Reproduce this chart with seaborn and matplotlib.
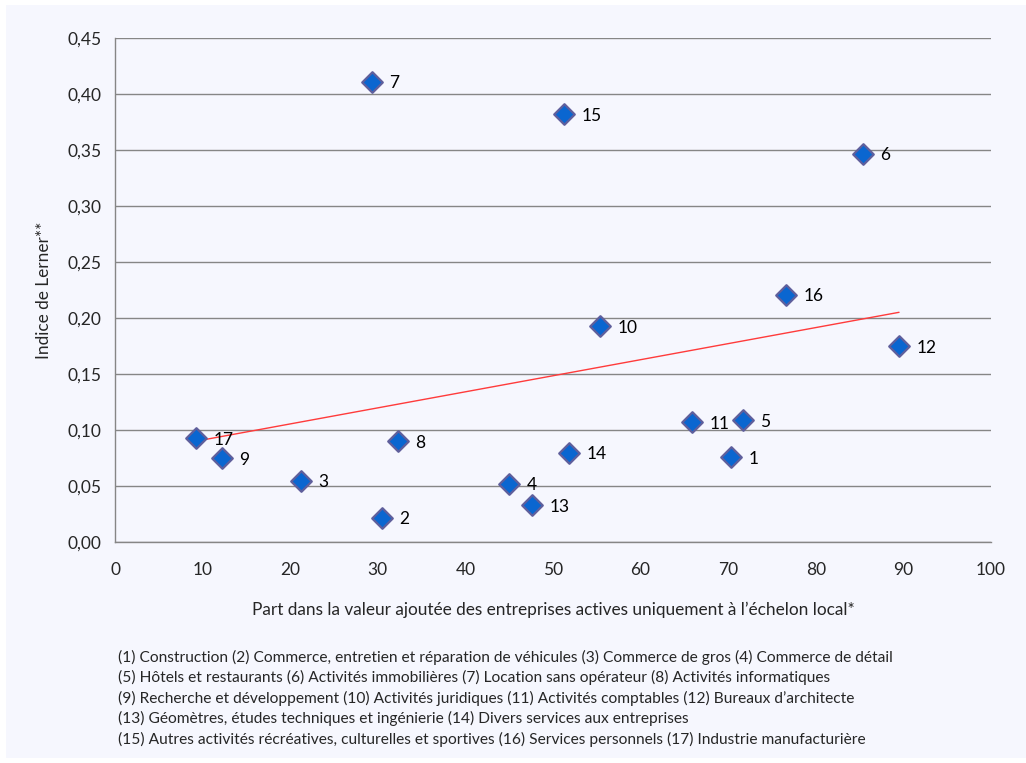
import matplotlib.pyplot as plt
import pandas as pd
import seaborn as sns
from matplotlib.patches import Rectangle

# valeurs
secteurs = [str(i) for i in range(1, 18)]
part_locale = [70.3, 30.5, 21.2, 45.0, 71.7, 85.4, 29.3, 32.3, 12.2, 55.4, 65.9, 89.5, 47.6, 51.8, 51.3, 76.6, 9.3]
indice_lerner = [0.076, 0.022, 0.055, 0.052, 0.109, 0.347, 0.411, 0.090, 0.075, 0.193, 0.107, 0.175, 0.033, 0.080, 0.382, 0.221, 0.093]
y_ticks = [0.00, 0.05, 0.10, 0.15, 0.20, 0.25, 0.30, 0.35, 0.40, 0.45]
x_ticks = list(range(0, 101, 10))
notes = [
    "(1) Construction (2) Commerce, entretien et réparation de véhicules (3) Commerce de gros (4) Commerce de détail",
    "(5) Hôtels et restaurants (6) Activités immobilières (7) Location sans opérateur (8) Activités informatiques",
    "(9) Recherche et développement (10) Activités juridiques (11) Activités comptables (12) Bureaux d\u2019architecte",
    "(13) Géomètres, études techniques et ingénierie (14) Divers services aux entreprises",
    "(15) Autres activités récréatives, culturelles et sportives (16) Services personnels (17) Industrie manufacturière",
]

df = pd.DataFrame({"secteur": secteurs, "x": part_locale, "y": indice_lerner})

sns.set_style("white")
plt.rcParams["font.family"] = ["Lato", "DejaVu Sans"]

bg = "#F6F7FE"
grid_col = "#868686"

fig = plt.figure(figsize=(10.26, 7.63), dpi=100, facecolor="white")
fig.patches.append(Rectangle((6 / 1026, 0.0066), 1 - 6 / 1026, 1 - 0.0066 - 5 / 763,
                             transform=fig.transFigure, facecolor=bg, edgecolor="none", zorder=-1))
ax = fig.add_axes([0.1121, 0.2893, 0.8538, 0.6605])
ax.set_facecolor(bg)

# droite de tendance (moindres carrés) + points
sns.regplot(data=df, x="x", y="y", scatter=False, ci=None, ax=ax,
            line_kws={"color": "#FF3B3B", "lw": 1.0, "zorder": 2})
sns.scatterplot(data=df, x="x", y="y", marker="D", s=110, color="#0A66D0",
                edgecolor="#5F5F9C", linewidth=1.6, ax=ax, zorder=3, legend=False)

for _, r in df.iterrows():
    ax.annotate(r["secteur"], (r["x"], r["y"]), xytext=(12.5, -1), textcoords="offset points",
                va="center", ha="left", fontsize=12.5, color="black")

ax.set_xlim(0, 100)
ax.set_ylim(0, 0.45)
ax.set_xticks(x_ticks)
ax.set_yticks(y_ticks)
ax.set_xticklabels([str(t) for t in x_ticks], fontsize=12.5)
ax.set_yticklabels([f"{t:.2f}".replace(".", ",") for t in y_ticks], fontsize=12.5)
ax.yaxis.grid(True, color=grid_col, lw=1)
ax.set_axisbelow(True)
for side in ["top", "right"]:
    ax.spines[side].set_visible(False)
for side in ["left", "bottom"]:
    ax.spines[side].set_color(grid_col)
    ax.spines[side].set_linewidth(1)
ax.tick_params(axis="both", direction="out", length=5, width=1, color=grid_col, pad=5)
ax.tick_params(axis="x", pad=9)

ax.set_xlabel("Part dans la valeur ajoutée des entreprises actives uniquement à l\u2019échelon local*",
              fontsize=12.4, labelpad=17)
ax.set_ylabel("Indice de Lerner**", fontsize=12.4, labelpad=11)

for i, line in enumerate(notes):
    fig.text(118 / 1026, 1 - (657 + i * 20.6) / 763, line, fontsize=11.2, va="center", ha="left")

fig.savefig("out.png", dpi=100, facecolor=fig.get_facecolor())
